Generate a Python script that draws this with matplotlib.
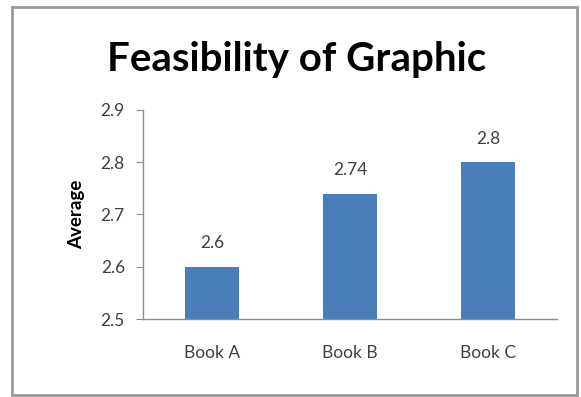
import matplotlib.pyplot as plt
from matplotlib.patches import Rectangle

books = ["Book A", "Book B", "Book C"]
averages = [2.6, 2.74, 2.8]
value_labels = ["2.6", "2.74", "2.8"]
y_ticks = [2.5, 2.6, 2.7, 2.8, 2.9]

bar_color = "#4a7ebb"
axis_color = "#8c8c8c"
text_color = "#404040"

plt.rcParams['font.family'] = ['Lato', 'DejaVu Sans']

fig = plt.figure(figsize=(5.81, 3.97), dpi=100)
fig.patch.set_facecolor("white")

# chart frame
fig.patches.append(Rectangle((12 / 581, 2 / 397), 565 / 581, 388 / 397,
                             transform=fig.transFigure, fill=False,
                             edgecolor="#9a9a9a", linewidth=2.0))

ax = fig.add_axes([143 / 581, 1 - 319 / 397, 414 / 581, 209 / 397])
x = range(len(books))
ax.bar(x, [v - 2.5 for v in averages], bottom=2.5, width=0.385, color=bar_color)

for xi, v, lab in zip(x, averages, value_labels):
    ax.annotate(lab, (xi, v), xytext=(0, 17), textcoords="offset points",
                ha="center", va="center", fontsize=12.5, color=text_color)

ax.set_xlim(-0.5, 2.5)
ax.set_ylim(2.5, 2.9)
ax.set_yticks(y_ticks)
ax.set_yticklabels([f"{t:.1f}" for t in y_ticks])
ax.set_xticks(list(x))
ax.set_xticklabels(books)
ax.tick_params(axis="y", length=5, color=axis_color, labelsize=12.5,
               labelcolor=text_color, pad=8)
ax.tick_params(axis="x", length=0, labelsize=12.5, labelcolor=text_color, pad=19)

for side in ["top", "right"]:
    ax.spines[side].set_visible(False)
for side in ["left", "bottom"]:
    ax.spines[side].set_color(axis_color)
    ax.spines[side].set_linewidth(1.0)

ax.set_ylabel("Average", fontsize=13.5, fontweight="bold", color="black", labelpad=11)

fig.text(297 / 581, 1 - 60 / 397, "Feasibility of Graphic", ha="center", va="center",
         fontsize=29, fontweight="bold", color="black")

fig.savefig("out.png", dpi=100)
